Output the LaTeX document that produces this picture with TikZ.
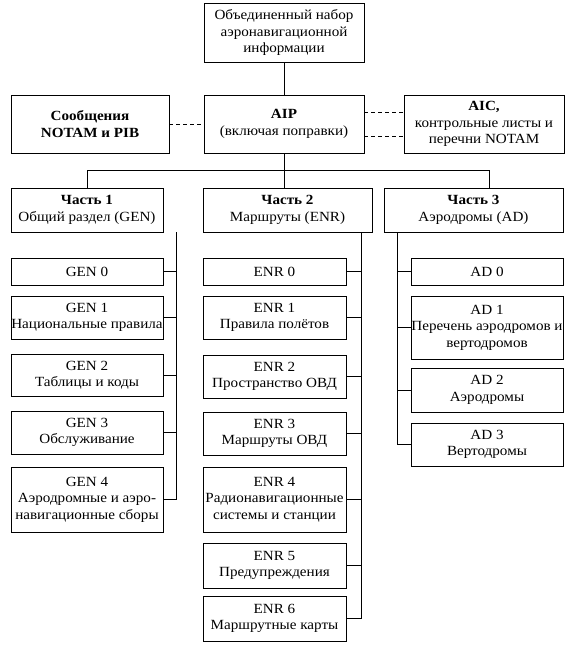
\documentclass[tikz,border=0pt]{standalone}
\usepackage{fontspec}
\setmainfont{Liberation Serif}[FakeStretch=1.08]
\usetikzlibrary{calc}
\newcommand{\textsize}{\fontsize{14}{16.5}\selectfont}
\tikzstyle{box}=[draw, line width=0.8pt, align=center, inner sep=0pt,
  font=\textsize]
\tikzstyle{bus}=[draw, line width=0.8pt]
\tikzstyle{link}=[draw, line width=0.8pt, dash pattern=on 4pt off 3pt]
\newcommand{\aipbox}[4]{node (#1) [box, minimum width=#2pt,
  minimum height=#3pt] {#4}}

\begin{document}
\begin{tikzpicture}[x=1pt,y=-1pt]
  \useasboundingbox (0,0) rectangle (571,646);

  % Top level
  \path (284,32.5) \aipbox{info}{160}{59}{Объединенный набор\\аэронавигационной\\информации};
  \path (284,124) \aipbox{aip}{160}{58}{\textbf{AIP}\\(включая поправки)};
  \path (90,124) \aipbox{notam}{158}{58}{\textbf{Сообщения}\\\textbf{NOTAM и PIB}};
  \path (484,124) \aipbox{aic}{160}{58}{\textbf{AIC,}\\контрольные листы и\\перечни NOTAM};

  % Parts
  \path (87,210) \aipbox{part1}{152}{44}{\textbf{Часть 1}\\Общий раздел (GEN)};
  \path (287.5,210) \aipbox{part2}{169}{44}{\textbf{Часть 2}\\Маршруты (ENR)};
  \path (473.5,210) \aipbox{part3}{179}{44}{\textbf{Часть 3}\\Аэродромы (AD)};

  % GEN
  \path (87,271.5) \aipbox{gen0}{152}{27}{GEN 0};
  \path (87,317.5) \aipbox{gen1}{152}{43}{GEN 1\\Национальные правила};
  \path (87,375) \aipbox{gen2}{152}{42}{GEN 2\\Таблицы и коды};
  \path (87,432.5) \aipbox{gen3}{152}{43}{GEN 3\\Обслуживание};
  \path (87,499.5) \aipbox{gen4}{152}{65}{GEN 4\\Аэродромные и аэро-\\навигационные сборы};

  % ENR
  \path (274.5,271.5) \aipbox{enr0}{143}{27}{ENR 0};
  \path (274.5,317.5) \aipbox{enr1}{143}{43}{ENR 1\\Правила полётов};
  \path (274.5,376.5) \aipbox{enr2}{143}{43}{ENR 2\\Пространство ОВД};
  \path (274.5,433.5) \aipbox{enr3}{143}{43}{ENR 3\\Маршруты ОВД};
  \path (274.5,499.5) \aipbox{enr4}{143}{65}{ENR 4\\Радионавигационные\\системы и станции};
  \path (274.5,565.5) \aipbox{enr5}{143}{45}{ENR 5\\Предупреждения};
  \path (274.5,618.5) \aipbox{enr6}{143}{45}{ENR 6\\Маршрутные карты};

  % AD
  \path (487,271.5) \aipbox{ad0}{152}{27}{AD 0};
  \path (487,327.5) \aipbox{ad1}{152}{63}{AD 1\\Перечень аэродромов и\\вертодромов};
  \path (487,390) \aipbox{ad2}{152}{44}{AD 2\\Аэродромы};
  \path (487,444.5) \aipbox{ad3}{152}{43}{AD 3\\Вертодромы};

  % Bus coordinates
  \coordinate (hub) at (0,170);
  \coordinate (drop3) at (489,170);
  \coordinate (genbus) at (176,0);
  \coordinate (enrbus) at (361,0);
  \coordinate (adbus) at (397,0);

  % Upper connectors
  \path [bus] (info.south) -- (aip.north);
  \path [bus] (aip.south) -- (aip.south |- part2.north);
  \path [bus] (part1.north) -- (part1.north |- hub) -- (drop3)
    -- (drop3 |- part3.north);
  \path [link] (notam.east) -- (aip.west);
  \path [link] ([yshift=12pt]aip.east) -- ([yshift=12pt]aic.west);
  \path [link] ([yshift=-12pt]aip.east) -- ([yshift=-12pt]aic.west);

  % GEN bus
  \path [bus] (genbus |- part1.south) -- (genbus |- gen4.east);
  \path [bus] (gen0.east) -- (gen0.east -| genbus);
  \path [bus] (gen1.east) -- (gen1.east -| genbus);
  \path [bus] (gen2.east) -- (gen2.east -| genbus);
  \path [bus] (gen3.east) -- (gen3.east -| genbus);
  \path [bus] (gen4.east) -- (gen4.east -| genbus);

  % ENR bus
  \path [bus] (enrbus |- part2.south) -- (enrbus |- enr6.east);
  \path [bus] (enr0.east) -- (enr0.east -| enrbus);
  \path [bus] (enr1.east) -- (enr1.east -| enrbus);
  \path [bus] (enr2.east) -- (enr2.east -| enrbus);
  \path [bus] (enr3.east) -- (enr3.east -| enrbus);
  \path [bus] (enr4.east) -- (enr4.east -| enrbus);
  \path [bus] (enr5.east) -- (enr5.east -| enrbus);
  \path [bus] (enr6.east) -- (enr6.east -| enrbus);

  % AD bus
  \path [bus] (adbus |- part3.south) -- (adbus |- ad3.west);
  \path [bus] (ad0.west) -- (ad0.west -| adbus);
  \path [bus] (ad1.west) -- (ad1.west -| adbus);
  \path [bus] (ad2.west) -- (ad2.west -| adbus);
  \path [bus] (ad3.west) -- (ad3.west -| adbus);

\end{tikzpicture}
\end{document}
